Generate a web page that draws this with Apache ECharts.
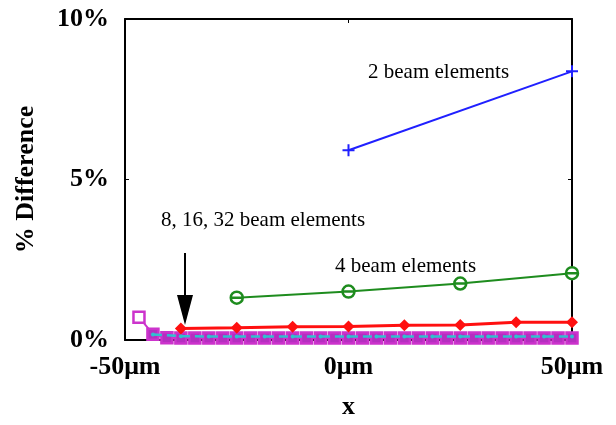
<!DOCTYPE html>
<html>
<head>
<meta charset="utf-8">
<script src="https://cdn.jsdelivr.net/npm/echarts@6/dist/echarts.min.js"></script>
<style>
  html, body { margin: 0; padding: 0; background: #fff; }
  #chart { width: 616px; height: 425px; }
</style>
</head>
<body>
<div id="chart"></div>
<script>
// x positions (µm) and % difference per mesh
const x2 = [0, 50]
const y2 = [5.91, 8.37]

const x4 = [-25, 0, 25, 50]
const y4 = [1.32, 1.51, 1.76, 2.08]

const x8 = [-37.5, -25, -12.5, 0, 12.5, 25, 37.5, 50]
const y8 = [0.36, 0.38, 0.41, 0.42, 0.46, 0.47, 0.55, 0.55]

const x16 = [-43.75, -37.5, -31.25, -25, -18.75, -12.5, -6.25, 0, 6.25, 12.5, 18.75, 25, 31.25, 37.5, 43.75, 50]
const y16 = [0.17, 0.12, 0.11, 0.11, 0.11, 0.11, 0.11, 0.11, 0.11, 0.11, 0.11, 0.11, 0.11, 0.11, 0.11, 0.11]

const x32 = [-46.875, -43.75, -40.625, -37.5, -34.375, -31.25, -28.125, -25, -21.875, -18.75, -15.625, -12.5,
  -9.375, -6.25, -3.125, 0, 3.125, 6.25, 9.375, 12.5, 15.625, 18.75, 21.875, 25, 28.125, 31.25, 34.375, 37.5,
  40.625, 43.75, 46.875, 50]
const y32 = [0.71, 0.18, 0.07, 0.06, 0.06, 0.06, 0.06, 0.06, 0.06, 0.06, 0.06, 0.06, 0.06, 0.06, 0.06, 0.06,
  0.06, 0.06, 0.06, 0.06, 0.06, 0.06, 0.06, 0.06, 0.06, 0.06, 0.06, 0.06, 0.06, 0.06, 0.06, 0.06]

const xTicks = [-50, 0, 50]
const yTicks = [0, 5, 10]

const zip = (xs, ys) => xs.map((v, i) => [v, ys[i]])

const serif = 'Liberation Serif'
const tickFont = { fontFamily: serif, fontWeight: 'bold', fontSize: 26, color: '#000' }
const frame = { show: true, onZero: false, lineStyle: { color: '#000', width: 2 } }
const inTick = { show: true, inside: true, length: 4, lineStyle: { color: '#000' } }

const chart = echarts.init(document.getElementById('chart'))

const option = {
  animation: false,
  backgroundColor: '#fff',
  grid: { left: 125, right: 44, top: 19, bottom: 78 },
  xAxis: [
    {
      type: 'value',
      min: -50,
      max: 50,
      interval: 50,
      name: 'x',
      nameLocation: 'middle',
      nameGap: 54,
      nameTextStyle: tickFont,
      axisLine: frame,
      axisTick: inTick,
      axisLabel: Object.assign({ margin: 14, formatter: v => xTicks.includes(v) ? v + 'μm' : '' }, tickFont),
      splitLine: { show: false }
    },
    {
      type: 'value',
      position: 'top',
      min: -50,
      max: 50,
      interval: 50,
      axisLine: frame,
      axisTick: inTick,
      axisLabel: { show: false },
      splitLine: { show: false }
    }
  ],
  yAxis: [
    {
      type: 'value',
      min: 0,
      max: 10,
      interval: 5,
      name: '% Difference',
      nameLocation: 'middle',
      nameGap: 86,
      nameTextStyle: tickFont,
      axisLine: frame,
      axisTick: inTick,
      axisLabel: Object.assign({ margin: 16, formatter: v => yTicks.includes(v) ? v + '%' : '' }, tickFont),
      splitLine: { show: false }
    },
    {
      type: 'value',
      position: 'right',
      min: 0,
      max: 10,
      interval: 5,
      axisLine: frame,
      axisTick: inTick,
      axisLabel: { show: false },
      splitLine: { show: false }
    }
  ],
  series: [
    {
      name: '2 beam elements',
      type: 'line',
      data: zip(x2, y2),
      symbol: 'path://M-1,0H1M0,-1V1',
      symbolSize: 12,
      lineStyle: { color: '#2020ff', width: 2 },
      itemStyle: { color: 'none', borderColor: '#2020ff', borderWidth: 2 }
    },
    {
      name: '4 beam elements',
      type: 'line',
      data: zip(x4, y4),
      symbol: 'path://M-1,0A1,1,0,1,1,1,0A1,1,0,1,1,-1,0ZM-1,0H1',
      symbolSize: 12,
      lineStyle: { color: '#1e8c1e', width: 2 },
      itemStyle: { color: '#fff', borderColor: '#1e8c1e', borderWidth: 2.5 }
    },
    {
      name: '32 beam elements',
      type: 'line',
      data: zip(x32, y32),
      symbol: 'rect',
      symbolSize: 11,
      lineStyle: { color: '#cc33cc', width: 2 },
      itemStyle: {
        color: p => (p.dataIndex === 0 ? '#fff' : '#b52fc0'),
        borderColor: '#cc33cc',
        borderWidth: 2.5
      }
    },
    {
      name: '16 beam elements',
      type: 'line',
      zlevel: 1,
      data: zip(x16, y16),
      symbol: 'circle',
      symbolSize: 4,
      lineStyle: { color: '#30c0d0', width: 2.5, type: [9, 5] },
      itemStyle: { color: '#30c0d0' }
    },
    {
      name: '8 beam elements',
      type: 'line',
      zlevel: 1,
      data: zip(x8, y8),
      symbol: 'diamond',
      symbolSize: 12,
      lineStyle: { color: '#ff1010', width: 3 },
      itemStyle: { color: '#ff1010' }
    }
  ],
  graphic: [
    { type: 'text', left: 368, top: 62, style: { text: '2 beam elements', font: '21px "Liberation Serif"', fill: '#000' } },
    { type: 'text', left: 335, top: 256, style: { text: '4 beam elements', font: '21px "Liberation Serif"', fill: '#000' } },
    { type: 'text', left: 161, top: 210, style: { text: '8, 16, 32 beam elements', font: '21px "Liberation Serif"', fill: '#000' } },
    { type: 'line', shape: { x1: 185, y1: 253, x2: 185, y2: 300 }, style: { stroke: '#000', lineWidth: 2 } },
    { type: 'polygon', shape: { points: [[177, 295], [193, 295], [185, 325]] }, style: { fill: '#000' } }
  ]
}

chart.setOption(option)
</script>
</body>
</html>
